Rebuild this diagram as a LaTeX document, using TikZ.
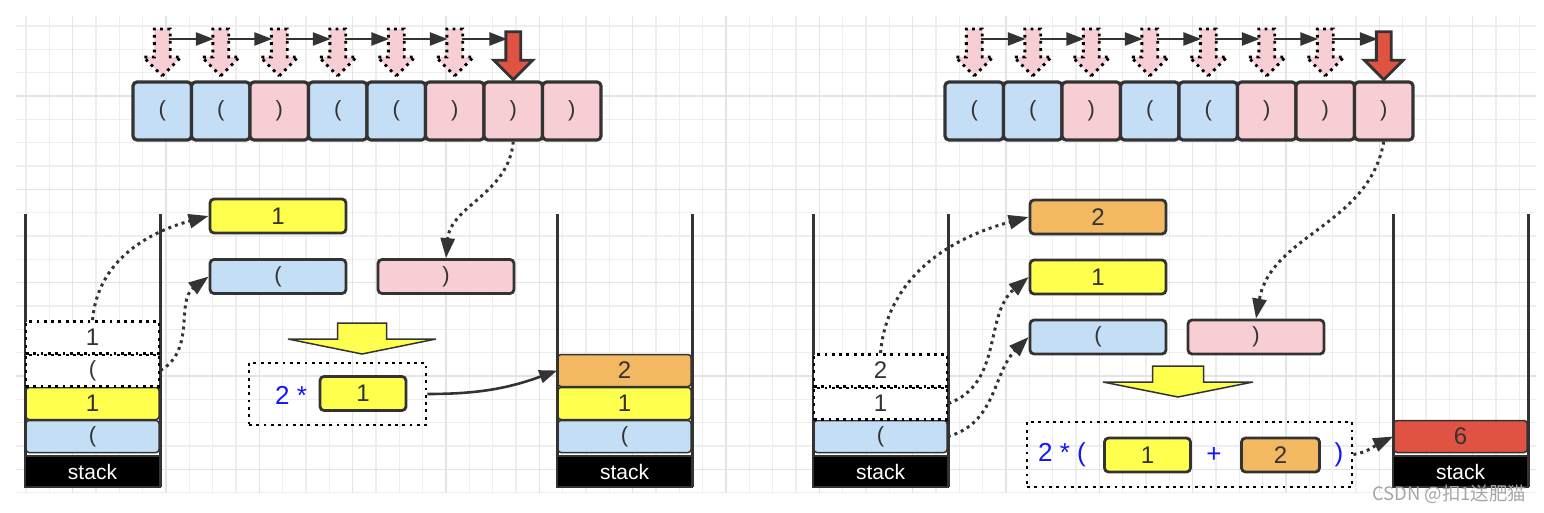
\documentclass[tikz,border=0pt]{standalone}
\usepackage{fontspec}
\setmainfont{Liberation Sans}
\newfontfamily\cjkfont{Noto Sans CJK SC}
\usetikzlibrary{arrows.meta}
\usetikzlibrary{shapes.arrows}
\definecolor{ink}{RGB}{51,51,51}
\definecolor{lpblue}{RGB}{196,222,245}
\definecolor{rppink}{RGB}{246,206,211}
\definecolor{numyellow}{RGB}{255,255,77}
\definecolor{numorange}{RGB}{242,184,98}
\definecolor{resred}{RGB}{224,83,67}
\definecolor{exprblue}{RGB}{20,20,255}
\definecolor{gridgray}{RGB}{238,238,238}
\definecolor{majorgray}{RGB}{228,228,228}
\newcommand{\parenfont}{\fontsize{22}{26}\selectfont}
\newcommand{\numfont}{\fontsize{24}{28}\selectfont}
\newcommand{\stackfont}{\fontsize{21}{24}\selectfont}
\newcommand{\exprfont}{\fontsize{26}{30}\selectfont}
\tikzset{
	edge/.style={-{Triangle[length=18pt,width=13pt]}, line width=2.6pt, draw=ink},
	dotedge/.style={edge, -{Triangle[length=20pt,width=14pt]}, line width=3pt, dash pattern=on 3pt off 4pt},
	wall/.style={line width=3pt, draw=ink},
	gridline/.style={line width=1.2pt, draw=gridgray},
	majorline/.style={line width=1.4pt, draw=majorgray}
}
\tikzset{
	cell/.style={draw=ink, line width=3.2pt, rounded corners=4pt, minimum width=58.5pt, minimum height=58pt, inner sep=0pt, text=ink, font=\parenfont},
	lcell/.style={cell, fill=lpblue},
	rcell/.style={cell, fill=rppink},
	item/.style={draw=ink, line width=2.8pt, rounded corners=4pt, minimum width=136pt, minimum height=34pt, inner sep=0pt, text=ink, font=\numfont},
	slot/.style={draw=ink, line width=1.5pt, rounded corners=3pt, minimum width=133pt, minimum height=32pt, inner sep=0pt, text=ink, font=\numfont},
	ghost/.style={slot, fill=white, draw=black, line width=2.8pt, rounded corners=0pt, dash pattern=on 2.8pt off 4.5pt},
	base/.style={fill=black, draw=ink, line width=1.5pt, minimum width=135pt, minimum height=31pt, inner sep=0pt, text=white, font=\stackfont},
	expr/.style={draw=black, line width=2.8pt, dash pattern=on 2.8pt off 4.5pt, inner sep=0pt},
	exprtext/.style={text=exprblue, font=\exprfont, inner sep=0pt},
	ptr/.style={single arrow, shape border rotate=270, draw=black, fill=rppink, line width=2.8pt, dash pattern=on 2.8pt off 4.5pt, minimum height=47pt, inner sep=6.5pt, single arrow head extend=11pt},
	cur/.style={single arrow, shape border rotate=270, draw=ink, fill=resred, line width=2.8pt, minimum height=48pt, inner sep=6pt, single arrow head extend=12pt},
	bigarrow/.style={draw=ink, fill=numyellow, line width=1.5pt}
}

\begin{document}
\begin{tikzpicture}[x=1pt, y=1pt]
\useasboundingbox (0,0) rectangle (1544,512);
% background grid
\begin{scope}[shift={(2.67,19.33)}]
\draw[gridline, step=23.333] (13.33,-0.33) grid (1533.33,476.67);
\end{scope}
\begin{scope}[shift={(-20.67,42.67)}]
\draw[majorline, step=93.333] (36.67,-23.67) grid (1556.67,453.33);
\end{scope}

% left: input
\node[lcell] (L1) at (162.25, 401) {(};
\node[lcell] (L2) at (220.75, 401) {(};
\node[rcell] (L3) at (279.25, 401) {)};
\node[lcell] (L4) at (337.75, 401) {(};
\node[lcell] (L5) at (396.25, 401) {(};
\node[rcell] (L6) at (454.75, 401) {)};
\node[rcell] (L7) at (513.25, 401) {)};
\node[rcell] (L8) at (571.75, 401) {)};

\node[ptr] (P1) at (162.25, 463.5) {};
\node[ptr] (P2) at (220.75, 463.5) {};
\node[ptr] (P3) at (279.25, 463.5) {};
\node[ptr] (P4) at (337.75, 463.5) {};
\node[ptr] (P5) at (396.25, 463.5) {};
\node[ptr] (P6) at (454.75, 463.5) {};
\node[cur] (C1) at (513.25, 460) {};

\draw[edge] ([shift={(7,9.5)}]P1.center) -- ([shift={(-7,9.5)}]P2.center);
\draw[edge] ([shift={(7,9.5)}]P2.center) -- ([shift={(-7,9.5)}]P3.center);
\draw[edge] ([shift={(7,9.5)}]P3.center) -- ([shift={(-7,9.5)}]P4.center);
\draw[edge] ([shift={(7,9.5)}]P4.center) -- ([shift={(-7,9.5)}]P5.center);
\draw[edge] ([shift={(7,9.5)}]P5.center) -- ([shift={(-7,9.5)}]P6.center);
\draw[edge] ([shift={(7,9.5)}]P6.center) -- ([shift={(-6,13)}]C1.center);

% left: stack before
\draw[wall] (25,298) -- (25,25);
\draw[wall] (160,298) -- (160,25);
\node[base] (S1) at (92.5, 40.5) {stack};
\node[slot, fill=lpblue, font=\parenfont] (A1) at (92.5, 75.5) {(};
\node[slot, fill=numyellow] (A2) at (92.5, 108.5) {1};
\node[ghost, font=\parenfont] (A3) at (92.5, 141.5) {(};
\node[ghost] (A4) at (92.5, 174.5) {1};

\node[item, fill=numyellow] (N1) at (278, 296) {1};
\node[item, fill=lpblue, font=\parenfont] (N2) at (278, 235.5) {(};
\node[item, fill=rppink, font=\parenfont] (N3) at (446, 235.5) {)};

\draw[bigarrow] (337.5,189) -- (386.5,189) -- (386.5,173) -- (436,173) -- (362,158) -- (288,173) -- (337.5,173) -- cycle;

\node[expr, minimum width=177pt, minimum height=62pt] (E1) at (337.5, 118) {};
\node[exprtext] (E1a) at (291, 117) {2 *};
\node[item, fill=numyellow, minimum width=86pt] (E1b) at (363, 118.5) {1};

% left: stack after
\draw[wall] (557,298) -- (557,25);
\draw[wall] (692,298) -- (692,25);
\node[base] (S2) at (624.5, 40.5) {stack};
\node[slot, fill=lpblue, font=\parenfont] (T1) at (624.5, 75.5) {(};
\node[slot, fill=numyellow] (T2) at (624.5, 108.5) {1};
\node[slot, fill=numorange] (T3) at (624.5, 141.5) {2};

\draw[dotedge] (A4.north) to[out=85, in=195] (N1.west);
\draw[dotedge] (A3.east) to[out=30, in=217] (N2.west);
\draw[dotedge] (L7.south) to[out=-95, in=85] (N3.north);
\draw[edge] (E1.east) to[out=0, in=200] (T3.west);

% right: input
\node[lcell] (R1) at (974.25, 401) {(};
\node[lcell] (R2) at (1032.75, 401) {(};
\node[rcell] (R3) at (1091.25, 401) {)};
\node[lcell] (R4) at (1149.75, 401) {(};
\node[lcell] (R5) at (1208.25, 401) {(};
\node[rcell] (R6) at (1266.75, 401) {)};
\node[rcell] (R7) at (1325.25, 401) {)};
\node[rcell] (R8) at (1383.75, 401) {)};

\node[ptr] (Q1) at (974.25, 463.5) {};
\node[ptr] (Q2) at (1032.75, 463.5) {};
\node[ptr] (Q3) at (1091.25, 463.5) {};
\node[ptr] (Q4) at (1149.75, 463.5) {};
\node[ptr] (Q5) at (1208.25, 463.5) {};
\node[ptr] (Q6) at (1266.75, 463.5) {};
\node[ptr] (Q7) at (1325.25, 463.5) {};
\node[cur] (C2) at (1383.75, 460) {};

\draw[edge] ([shift={(7,9.5)}]Q1.center) -- ([shift={(-7,9.5)}]Q2.center);
\draw[edge] ([shift={(7,9.5)}]Q2.center) -- ([shift={(-7,9.5)}]Q3.center);
\draw[edge] ([shift={(7,9.5)}]Q3.center) -- ([shift={(-7,9.5)}]Q4.center);
\draw[edge] ([shift={(7,9.5)}]Q4.center) -- ([shift={(-7,9.5)}]Q5.center);
\draw[edge] ([shift={(7,9.5)}]Q5.center) -- ([shift={(-7,9.5)}]Q6.center);
\draw[edge] ([shift={(7,9.5)}]Q6.center) -- ([shift={(-7,9.5)}]Q7.center);
\draw[edge] ([shift={(7,9.5)}]Q7.center) -- ([shift={(-6,13)}]C2.center);

% right: stack before
\draw[wall] (813,298) -- (813,25);
\draw[wall] (948,298) -- (948,25);
\node[base] (S3) at (880.5, 40.5) {stack};
\node[slot, fill=lpblue, font=\parenfont] (B1) at (880.5, 75.5) {(};
\node[ghost] (B2) at (880.5, 108.5) {1};
\node[ghost] (B3) at (880.5, 141.5) {2};

\node[item, fill=numorange] (M1) at (1098, 295) {2};
\node[item, fill=numyellow] (M2) at (1098, 235) {1};
\node[item, fill=lpblue, font=\parenfont] (M3) at (1098, 175) {(};
\node[item, fill=rppink, font=\parenfont] (M4) at (1256, 175) {)};

\draw[bigarrow] (1152.5,146) -- (1203.5,146) -- (1203.5,130) -- (1253,130) -- (1178,115) -- (1103,130) -- (1152.5,130) -- cycle;

\node[expr, minimum width=325pt, minimum height=65pt] (F1) at (1189.5, 57.5) {};
\node[exprtext] (F1a) at (1062, 57) {2 * (};
\node[item, fill=numyellow, minimum width=86pt] (F1b) at (1147.5, 57) {1};
\node[exprtext] (F1c) at (1214, 57) {+};
\node[item, fill=numorange, minimum width=78pt] (F1d) at (1280.5, 57) {2};
\node[exprtext] (F1e) at (1339, 57) {)};

% right: stack after
\draw[wall] (1393,298) -- (1393,25);
\draw[wall] (1528,298) -- (1528,25);
\node[base] (S4) at (1460.5, 40.5) {stack};
\node[slot, fill=resred] (D1) at (1460.5, 75.5) {6};

\draw[dotedge] (B3.north) to[out=85, in=195] (M1.west);
\draw[dotedge] (B2.east) to[out=20, in=220] (M2.west);
\draw[dotedge] (B1.east) to[out=15, in=225] (M3.west);
\draw[dotedge] (R8.south) to[out=-100, in=80] (M4.north);
\draw[dotedge] (F1.east) to[out=10, in=205] (D1.west);

\node[text=black!35, font=\cjkfont\fontsize{18.5}{22}\selectfont, anchor=east] (W) at (1530, 18) {CSDN @扣1送肥猫};
\end{tikzpicture}
\end{document}
